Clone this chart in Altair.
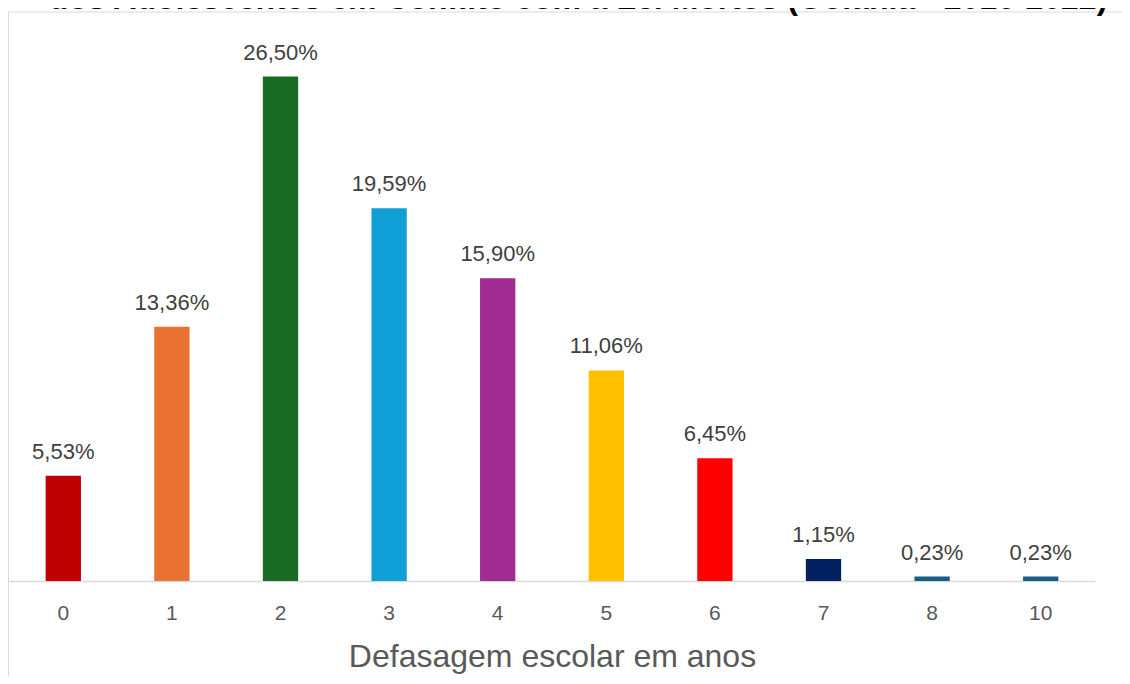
import altair as alt
import pandas as pd

categories = ["0", "1", "2", "3", "4", "5", "6", "7", "8", "10"]
values = [5.53, 13.36, 26.50, 19.59, 15.90, 11.06, 6.45, 1.15, 0.23, 0.23]
colors = ["#C00000", "#E97132", "#196B24", "#0F9ED5", "#A02B93",
          "#FFC000", "#FF0000", "#002060", "#156082", "#156082"]
title_line = "dos Adolescentes em Conflito com a Lei Mortos (Goiânia - 2016-2022)"
x_title = "Defasagem escolar em anos"

df = pd.DataFrame({"cat": categories, "val": values, "col": colors})

W, H = 1086, 571
FONT = "Liberation Sans"

base = alt.Chart(df)

xenc = alt.X("cat:N", sort=categories,
             scale=alt.Scale(paddingInner=0.675, paddingOuter=0.3375),
             axis=alt.Axis(title=x_title, labelAngle=0, ticks=False,
                           domainColor="#D9D9D9", domainWidth=1.5,
                           labelFont=FONT, labelFontSize=21, labelColor="#595959",
                           labelPadding=21, titleFont=FONT, titleFontSize=32,
                           titleFontWeight="normal", titleColor="#595959",
                           titlePadding=18))
yenc = alt.Y("val:Q", scale=alt.Scale(domain=[0, 30]), axis=None)

bars = base.mark_bar().encode(x=xenc, y=yenc, color=alt.Color("col:N", scale=None))

labels = base.transform_calculate(
    lab="replace(format(datum.val, '.2f'), '.', ',') + '%'"
).mark_text(font=FONT, fontSize=22, color="#404040", baseline="alphabetic", dy=-17).encode(
    x=alt.X("cat:N", sort=categories), y="val:Q", text="lab:N")

one = alt.Chart(pd.DataFrame({"t": [title_line]}))
frame_left = one.mark_rule(color="#D9D9D9", strokeWidth=1).encode(
    x=alt.value(-0.5), y=alt.value(2), y2=alt.value(900))
frame_top = one.mark_rule(color="#D9D9D9", strokeWidth=1).encode(
    x=alt.value(-0.5), x2=alt.value(1300), y=alt.value(2))
title = one.mark_text(font=FONT, fontSize=32, fontWeight="bold", color="#000000",
                      baseline="alphabetic", align="center").encode(
    x=alt.value(569), y=alt.value(-1), text="t:N")

chart = alt.layer(frame_left, frame_top, bars, labels, title).properties(
    width=W, height=H,
    background="white",
    autosize=alt.AutoSizeParams(type="none"),
    padding={"left": 1, "top": 2, "right": 27, "bottom": 95},
).configure_view(stroke=None)

chart.save("out.html", embed_options={"renderer": "svg", "actions": False})
